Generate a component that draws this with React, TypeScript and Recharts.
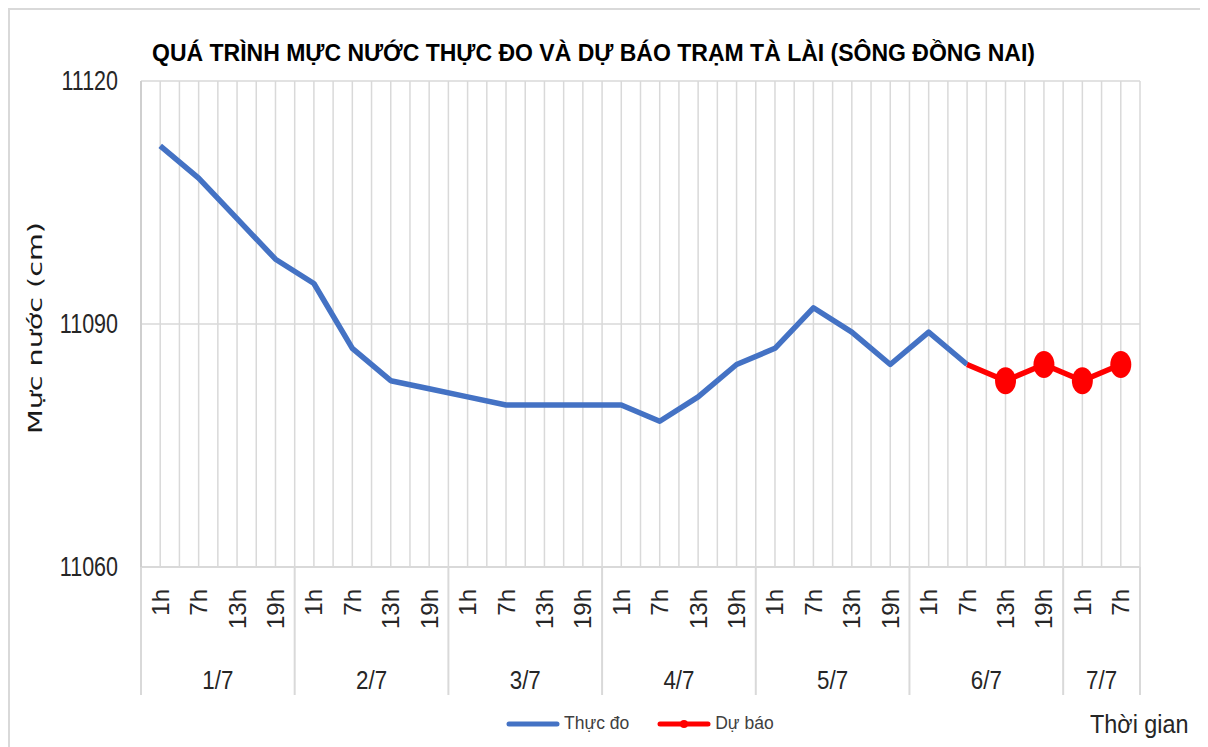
import { CartesianGrid, ComposedChart, Line, XAxis, YAxis } from "recharts";

// mốc thời gian (giờ / ngày)
const hours = [
  "1h", "7h", "13h", "19h",
  "1h", "7h", "13h", "19h",
  "1h", "7h", "13h", "19h",
  "1h", "7h", "13h", "19h",
  "1h", "7h", "13h", "19h",
  "1h", "7h", "13h", "19h",
  "1h", "7h",
];
const days = [
  "1/7", "1/7", "1/7", "1/7",
  "2/7", "2/7", "2/7", "2/7",
  "3/7", "3/7", "3/7", "3/7",
  "4/7", "4/7", "4/7", "4/7",
  "5/7", "5/7", "5/7", "5/7",
  "6/7", "6/7", "6/7", "6/7",
  "7/7", "7/7",
];

// mực nước thực đo và dự báo (cm)
const actual = [
  11112, 11108, 11103, 11098,
  11095, 11087, 11083, 11082,
  11081, 11080, 11080, 11080,
  11080, 11078, 11081, 11085,
  11087, 11092, 11089, 11085,
  11089, 11085, null, null,
  null, null,
];
const forecast = [
  null, null, null, null,
  null, null, null, null,
  null, null, null, null,
  null, null, null, null,
  null, null, null, null,
  null, 11085, 11083, 11085,
  11083, 11085,
];

const yTicks = [11060, 11090, 11120];

const series = [
  { key: "actual", name: "Thực đo", color: "#4472C4" },
  { key: "forecast", name: "Dự báo", color: "#FF0000" },
];

const data = hours.map((h, i) => ({
  id: `${days[i]} ${h}`,
  hour: h,
  day: days[i],
  actual: actual[i],
  forecast: forecast[i],
}));

const W = 1200;
const H = 739;
const MARGIN = { top: 73, right: 68, bottom: 52, left: 63 };
const Y_W = 70;
const X_H = 128;
const BAND = (W - MARGIN.left - MARGIN.right - Y_W) / data.length;
const firstForecast = forecast.findIndex((v) => v !== null);

const SANS = "'Liberation Sans', Arial, sans-serif";
const GRID = "#d9d9d9";
const TXT = "#262626";

function HourTick(props: any) {
  const { x, y, payload } = props;
  const i = payload.index;
  const d = data[i];
  const first = i === 0 || data[i - 1].day !== d.day;
  const last = i === data.length - 1;
  const count = data.filter((p) => p.day === d.day).length;
  const dayCenter = x - BAND / 2 + (count * BAND) / 2;
  return (
    <g>
      <text
        transform={`translate(${x}, ${y + 22}) rotate(-90)`}
        textAnchor="end"
        dominantBaseline="central"
        fontFamily={SANS}
        fontSize={24}
        fill={TXT}
      >
        {d.hour}
      </text>
      {first && (
        <>
          <line x1={x - BAND / 2} x2={x - BAND / 2} y1={y} y2={y + X_H} stroke={GRID} strokeWidth={2} />
          <text
            transform={`translate(${dayCenter}, ${y + 113}) scale(0.86, 1)`}
            textAnchor="middle"
            dominantBaseline="central"
            fontFamily={SANS}
            fontSize={26}
            fill={TXT}
          >
            {d.day}
          </text>
        </>
      )}
      {last && (
        <line x1={x + BAND / 2} x2={x + BAND / 2} y1={y} y2={y + X_H} stroke={GRID} strokeWidth={2} />
      )}
    </g>
  );
}

function ValueTick(props: any) {
  const { x, y, payload } = props;
  return (
    <text
      transform={`translate(${x}, ${y}) scale(0.86, 1.08)`}
      textAnchor="end"
      dominantBaseline="central"
      fontFamily={SANS}
      fontSize={25}
      fill={TXT}
    >
      {payload.value}
    </text>
  );
}

function YTitle(props: any) {
  const { viewBox } = props;
  const cx = viewBox.x - 36;
  const cy = viewBox.y + viewBox.height / 2 + 4;
  return (
    <text
      transform={`translate(${cx}, ${cy}) rotate(-90) scale(1.43, 1)`}
      textAnchor="middle"
      dominantBaseline="central"
      fontFamily="'DejaVu Sans', sans-serif"
      fontSize={20}
      fill="#1a1a1a"
    >
      Mực nước (cm)
    </text>
  );
}

function ForecastDot(props: any) {
  const { cx, cy, index, value } = props;
  if (value == null || index === firstForecast) return <g key={`d${index}`} />;
  return <ellipse key={`d${index}`} cx={cx} cy={cy} rx={10.5} ry={13.5} fill="#FF0000" />;
}

export default function App() {
  return (
    <div style={{ position: "relative", width: W, height: H }}>
      <div
        style={{
          position: "absolute",
          left: 0,
          top: 0,
          width: W,
          height: H,
          borderTop: `2px solid ${GRID}`,
          borderLeft: `2px solid ${GRID}`,
          boxSizing: "border-box",
        }}
      />
      <div
        style={{
          position: "absolute",
          left: 144,
          top: 32,
          fontFamily: SANS,
          fontWeight: "bold",
          fontSize: 23,
          lineHeight: "26px",
          color: "#000",
          whiteSpace: "nowrap",
        }}
      >
        QUÁ TRÌNH MỰC NƯỚC THỰC ĐO VÀ DỰ BÁO TRẠM TÀ LÀI (SÔNG ĐỒNG NAI)
      </div>
      <div style={{ position: "absolute", left: 0, top: 0 }}>
        <ComposedChart width={W} height={H} data={data} margin={MARGIN}>
          <CartesianGrid
            stroke={GRID}
            strokeWidth={1.5}
            verticalCoordinatesGenerator={({ offset }: any) =>
              Array.from(
                { length: data.length * 2 + 1 },
                (_, i) => offset.left + (i * offset.width) / (data.length * 2),
              )
            }
          />
          <XAxis
            dataKey="id"
            scale="band"
            height={X_H}
            interval={0}
            tick={<HourTick />}
            tickLine={false}
            tickSize={0}
            tickMargin={0}
            axisLine={{ stroke: GRID, strokeWidth: 2 }}
          />
          <YAxis
            width={Y_W}
            domain={[11060, 11120]}
            ticks={yTicks}
            interval={0}
            tickLine={false}
            tickSize={0}
            tickMargin={23}
            axisLine={{ stroke: "#cfcfcf", strokeWidth: 2 }}
            tick={<ValueTick />}
            label={<YTitle />}
          />
          <Line
            dataKey="actual"
            name={series[0].name}
            stroke={series[0].color}
            strokeWidth={5.5}
            strokeLinejoin="round"
            dot={false}
            activeDot={false}
            isAnimationActive={false}
          />
          <Line
            dataKey="forecast"
            name={series[1].name}
            stroke={series[1].color}
            strokeWidth={5.5}
            strokeLinejoin="round"
            dot={<ForecastDot />}
            activeDot={false}
            isAnimationActive={false}
          />
        </ComposedChart>
      </div>
      {/* chú thích */}
      <div
        style={{
          position: "absolute",
          left: 498,
          top: 705,
          display: "flex",
          alignItems: "center",
          gap: 28,
          fontFamily: SANS,
          fontSize: 17.5,
          color: "#404040",
        }}
      >
        {series.map((s, i) => (
          <div key={s.key} style={{ display: "flex", alignItems: "center", gap: 4 }}>
            <svg width={54} height={14}>
              <line x1={3} x2={51} y1={7} y2={7} stroke={s.color} strokeWidth={5} strokeLinecap="round" />
              {i === 1 && <circle cx={27} cy={7} r={4} fill={s.color} />}
            </svg>
            <span>{s.name}</span>
          </div>
        ))}
      </div>
      <div
        style={{
          position: "absolute",
          left: 1082,
          top: 703,
          fontFamily: SANS,
          fontSize: 26,
          lineHeight: "27px",
          color: TXT,
          whiteSpace: "nowrap",
          transform: "scaleX(0.9)",
          transformOrigin: "left center",
        }}
      >
        Thời gian
      </div>
    </div>
  );
}
